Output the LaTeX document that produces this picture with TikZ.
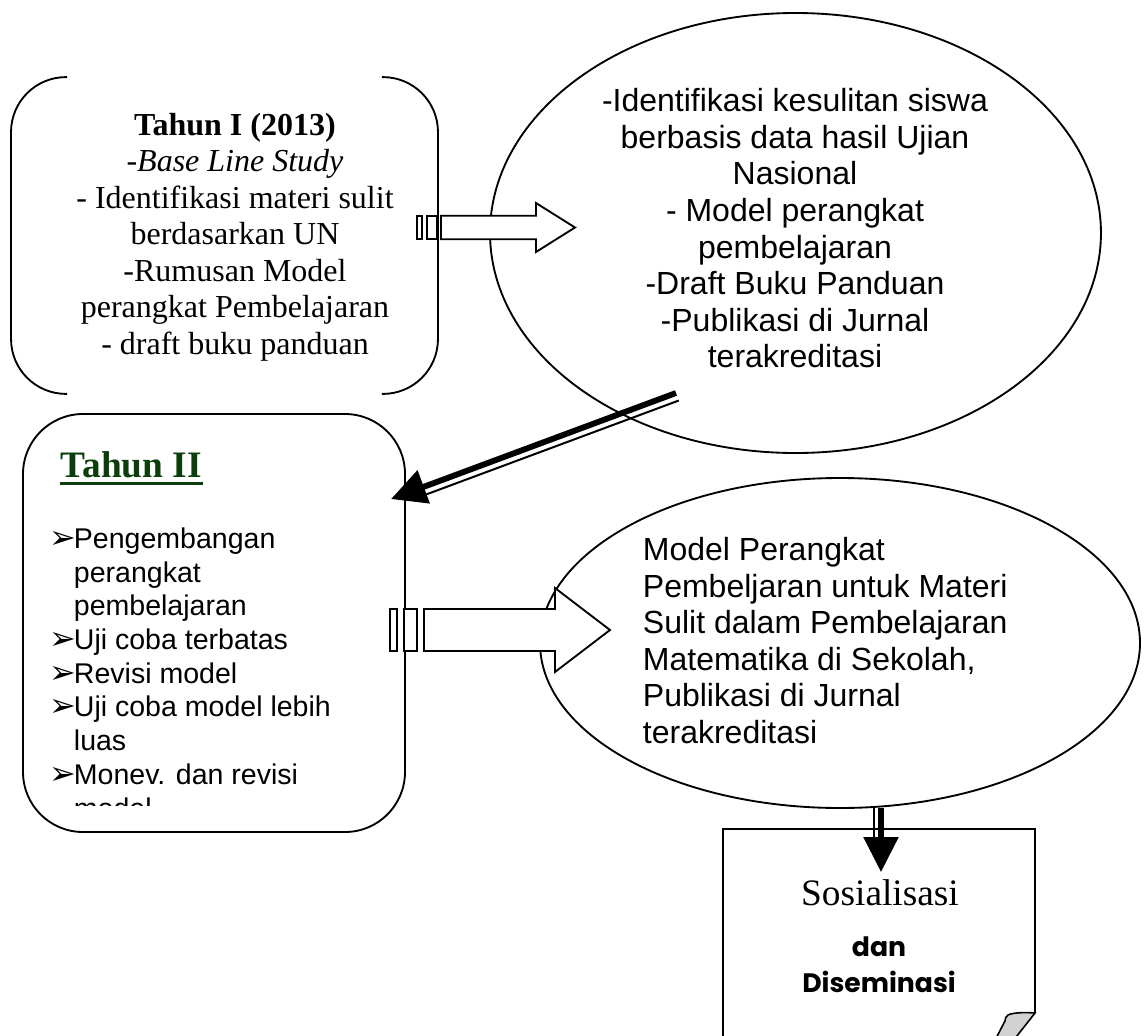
\documentclass[tikz,border=0pt]{standalone}
\usepackage{fontspec}
\setmainfont{Liberation Serif}
\newfontfamily\arialf{Liberation Sans}
\newfontfamily\dejavuf{DejaVu Sans}
\newfontfamily\comicf{Poppins}
\usetikzlibrary{calc, shapes.geometric, arrows.meta}
\definecolor{titlegreen}{RGB}{12,62,12}

\begin{document}
\begin{tikzpicture}[x=0.375pt, y=-0.375pt, line width=0.7pt,
        oval/.style={ellipse, draw, inner sep=0pt},
        serif/.style={font=\fontsize{12}{13.7}\selectfont, align=center},
        sans/.style={font=\arialf\fontsize{12}{13.7}\selectfont},
        listline/.style={anchor=base west, inner sep=0pt, font=\arialf\fontsize{10.7}{12.6}\selectfont},
        stripe/.style={draw, fill=white},
        fatarrow/.style={line width=2.2pt, -{Triangle[length=13.1pt, width=12.8pt]}}]
                \useasboundingbox (0,0) rectangle (1144,1036);
                \node[oval, minimum width=229.1pt, minimum height=165pt] (ell1) at (795.5,233) {};
                \node[oval, minimum width=225pt, minimum height=123.75pt] (ell2) at (840,643) {};
                \node[minimum width=159.4pt, minimum height=118.1pt, inner sep=0pt] (box1) at (224.5,235.5) {};
                \draw[rounded corners=20.6pt] ([xshift=21pt]box1.north west) -- (box1.north west) -- (box1.south west) -- ([xshift=21pt]box1.south west);
                \draw[rounded corners=20.6pt] ([xshift=-21pt]box1.north east) -- (box1.north east) -- (box1.south east) -- ([xshift=-21pt]box1.south east);
                \node[serif] (yr1txt) at (235,237) {\textbf{Tahun I (2013)}\\-\textit{Base Line Study}\\- Identifikasi materi sulit\\berdasarkan UN\\-Rumusan Model\\perangkat Pembelajaran\\- draft buku panduan};
                \node[sans, align=center] (ell1txt) at (795,228.3) {-Identifikasi kesulitan siswa\\berbasis data hasil Ujian\\Nasional\\- Model perangkat\\pembelajaran\\-Draft Buku Panduan\\-Publikasi di Jurnal\\terakreditasi};
                \node[sans, align=left, anchor=west, inner sep=0pt] (ell2txt) at (642,640.7) {Model Perangkat\\Pembeljaran untuk Materi\\Sulit dalam Pembelajaran\\Matematika di Sekolah,\\Publikasi di Jurnal\\terakreditasi};
                \node[draw, rounded corners=22.5pt, minimum width=143.25pt, minimum height=156.75pt] (box2) at (214,623) {};
                \node[anchor=base west, inner sep=0pt, text=titlegreen, font=\bfseries\fontsize{14}{16}\selectfont] (yr2) at (60,477) {Tahun II};
                \draw[titlegreen, line width=1.1pt] ([yshift=-2.3pt]yr2.base west) -- ([yshift=-2.3pt]yr2.base east);
                \begin{scope}
                    \clip (23,414) rectangle (405,805);
                    \foreach \txt/\k/\bul in {Pengembangan/0/1, perangkat/1/0, pembelajaran/2/0, Uji coba terbatas/3/1, Revisi model/4/1, Uji coba model lebih/5/1, luas/6/0, Monev. dan revisi/7/1, model/8/0} {
                        \node[listline] (li\k) at (73,548.4+33.7*\k) {\txt};
                        \ifnum\bul=1 \node[anchor=base west, inner sep=0pt, font=\dejavuf\fontsize{12}{12}\selectfont] (bu\k) at (49,548.4+33.7*\k) {➢};\fi
                    }
                \end{scope}
                \coordinate (a1) at (417,227.5);
                \draw[stripe] (a1) ++(0,-11.8) rectangle ++(5,23.6);
                \draw[stripe] (a1) ++(10,-11.8) rectangle ++(10,23.6);
                \draw[stripe] (a1) ++(24,-11.8) -- ++(95,0) -- ++(0,-12.7) -- ++(39,24.5) -- ++(-39,24.5) -- ++(0,-12.7) -- ++(-95,0) -- cycle;
                \coordinate (a2) at (390,630);
                \draw[stripe] (a2) ++(0,-21) rectangle ++(7,42);
                \draw[stripe] (a2) ++(14,-21) rectangle ++(13,42);
                \draw[stripe] (a2) ++(34,-21) -- ++(131,0) -- ++(0,-21) -- ++(55,42) -- ++(-55,42) -- ++(0,-21) -- ++(-131,0) -- cycle;
                \coordinate (d1) at (676,393);
                \coordinate (d2) at (391,499);
                \draw[line width=0.75pt] ($(d1)+(2.8,7.5)$) -- ($(d2)!13pt!(d1)+(2.8,7.5)$);
                \draw[fatarrow] (d1) -- (d2);
                \coordinate (v1) at (881,808);
                \coordinate (v2) at (881,872);
                \draw[line width=0.75pt] ($(v1)+(-7,0)$) -- ($(v2)+(-7,-30)$);
                \draw[fatarrow, line width=1.9pt] (v1) -- (v2);
                \draw[line width=0.9pt] (723,1046) -- (723,829) -- (1035,829) -- (1035,1013);
                \draw[fill=gray!35, line width=0.6pt] (1035,1013) .. controls (1022,1012) and (1012,1013) .. (1008,1015) .. controls (1006,1016) and (1005,1019) .. (1005,1021) -- (992,1046) -- (1009,1046) -- cycle;
                \node[font=\fontsize{14}{16}\selectfont] (soc) at (880,893) {Sosialisasi};
                \node[font=\comicf\bfseries\fontsize{10}{13.5}\selectfont, align=center] (dis) at (879,965) {dan\\Diseminasi};
            \end{tikzpicture}
\end{document}
